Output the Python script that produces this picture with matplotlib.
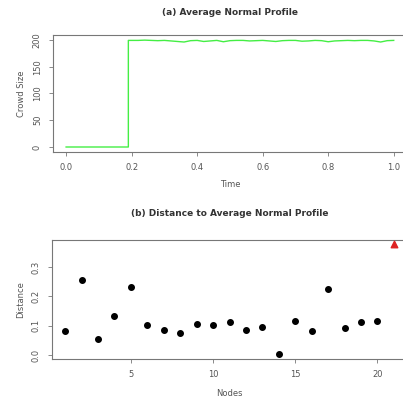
import numpy as np
import matplotlib.pyplot as plt

# (a) average normal profile: time grid and level
time = [0.00, 0.19, 0.19, 0.20, 0.22, 0.24, 0.26, 0.28, 0.30, 0.32, 0.34, 0.36,
        0.38, 0.40, 0.42, 0.44, 0.46, 0.48, 0.50, 0.52, 0.54, 0.56, 0.58, 0.60,
        0.62, 0.64, 0.66, 0.68, 0.70, 0.72, 0.74, 0.76, 0.78, 0.80, 0.82, 0.84,
        0.86, 0.88, 0.90, 0.92, 0.94, 0.96, 0.98, 1.00]
level = [0, 0, 199, 199, 199, 199.5, 199, 198.5, 199, 198, 197, 196,
         198.5, 199, 197, 198, 199, 196.5, 198.5, 199, 199, 198, 198.5, 199,
         198, 197, 198.5, 199, 199, 197.5, 198, 199, 198.5, 196.5, 198, 198.5,
         199, 198.5, 199, 199, 198, 196, 198.5, 199]

# (b) distance of each node to the profile
nodes = list(range(1, 21))
dist = [0.082, 0.255, 0.054, 0.133, 0.233, 0.102, 0.086, 0.076, 0.106, 0.103,
        0.114, 0.086, 0.096, 0.002, 0.115, 0.082, 0.224, 0.093, 0.114, 0.115]
odd_node = 21
odd_dist = 0.378

grey = '#555555'
plt.rcParams['font.family'] = 'DejaVu Sans'
plt.rcParams['font.size'] = 6

fig = plt.figure(figsize=(4.03, 4.01), dpi=100)

ax1 = fig.add_axes([0.1315, 0.621, 0.878, 0.292])
ax1.plot(time, level, color='#44ee44', lw=1.0)
ax1.set_xlim(-0.04, 1.04)
ax1.set_ylim(-9.3, 209.3)
ax1.set_xticks([0.0, 0.2, 0.4, 0.6, 0.8, 1.0])
ax1.set_xticklabels(['0.0', '0.2', '0.4', '0.6', '0.8', '1.0'])
ax1.set_yticks([0, 50, 100, 150, 200])
ax1.set_title('(a) Average Normal Profile', fontsize=6.5, fontweight='bold',
              color='#333333', pad=14)
ax1.set_xlabel('Time', color=grey, labelpad=6)
ax1.set_ylabel('Crowd Size', color=grey, labelpad=5)

ax2 = fig.add_axes([0.129, 0.1055, 0.881, 0.296])
ax2.scatter(nodes, dist, s=16, color='black', zorder=3)
ax2.scatter([odd_node], [odd_dist], s=22, marker='^', color='#dd2222', zorder=3)
ax2.set_xlim(0.2, 21.8)
ax2.set_ylim(-0.0126, 0.3925)
ax2.set_xticks([5, 10, 15, 20])
ax2.set_yticks([0.0, 0.1, 0.2, 0.3])
ax2.set_yticklabels(['0.0', '0.1', '0.2', '0.3'])
ax2.set_title('(b) Distance to Average Normal Profile', fontsize=6.5,
              fontweight='bold', color='#333333', pad=17)
ax2.set_xlabel('Nodes', color=grey, labelpad=7)
ax2.set_ylabel('Distance', color=grey, labelpad=5)

for ax in (ax1, ax2):
    for sp in ax.spines.values():
        sp.set_color('#777777')
        sp.set_linewidth(0.8)
    ax.spines['right'].set_visible(False)
    ax.tick_params(colors='#777777', labelcolor=grey, length=3, width=0.6,
                   pad=5)
    for lab in ax.get_yticklabels():
        lab.set_rotation(90)
        lab.set_va('center')

fig.savefig('out.png', dpi=100)
